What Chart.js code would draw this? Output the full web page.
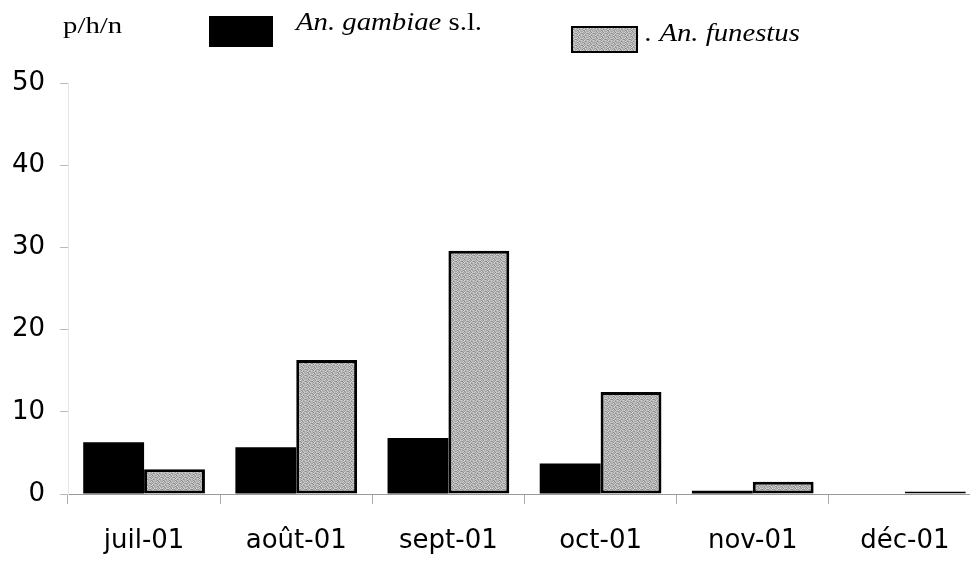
<!DOCTYPE html>
<html>
<head>
<meta charset="utf-8">
<script src="https://cdn.jsdelivr.net/npm/chart.js@4/dist/chart.umd.min.js"></script>
<style>
  html, body { margin: 0; padding: 0; background: #fff; overflow: hidden; }
</style>
</head>
<body>
<canvas id="canvas" width="985" height="562"></canvas>
<script>
var months = ['juil-01', 'août-01', 'sept-01', 'oct-01', 'nov-01', 'déc-01'];
var gambiae = [6.3, 5.7, 6.8, 3.7, 0.4, 0];
var funestus = [3.0, 16.3, 29.6, 12.4, 1.5, 0.3];
var yTicks = [0, 10, 20, 30, 40, 50];

// speckled grey fill, built from a small fixed tile
function speckle() {
    var rows = [
        '201312',
        '130221',
        '312032',
        '021310',
        '203123',
        '132012'
    ];
    var shades = ['#8e8e8e', '#a6a6a6', '#bcbcbc', '#d2d2d2'];
    var t = document.createElement('canvas');
    t.width = 6; t.height = 6;
    var g = t.getContext('2d');
    for (var r = 0; r < 6; r++) {
        for (var k = 0; k < 6; k++) {
            g.fillStyle = shades[+rows[r][k]];
            g.fillRect(k, r, 1, 1);
        }
    }
    return g.createPattern(t, 'repeat');
}

// text slightly stretched sideways, as in the printed legend
function wideText(c, txt, x, y, sx) {
    c.save();
    c.translate(x, y);
    c.scale(sx, 1);
    c.fillText(txt, 0, 0);
    var w = c.measureText(txt).width * sx;
    c.restore();
    return w;
}

// legend drawn by hand: unit label, black swatch, grey swatch
var legendPlugin = {
    id: 'manualLegend',
    afterDraw: function(chart) {
        var c = chart.ctx;
        c.save();
        c.fillStyle = '#000';
        c.textBaseline = 'alphabetic';
        c.font = '24px "Liberation Serif"';
        wideText(c, 'p/h/n', 63, 33, 1.2);

        c.fillStyle = chart.data.datasets[0].backgroundColor;
        c.fillRect(209, 16, 64, 31);

        c.fillStyle = '#000';
        c.font = 'italic 25px "Liberation Serif"';
        var w = wideText(c, 'An. gambiae ', 296, 30, 1.15);
        c.font = '25px "Liberation Serif"';
        wideText(c, 's.l.', 296 + w, 30, 1.15);

        c.fillStyle = chart.data.datasets[1].backgroundColor;
        c.fillRect(571, 26, 67, 27);
        c.lineWidth = 2;
        c.strokeStyle = '#000';
        c.strokeRect(572, 27, 65, 25);

        c.fillStyle = '#000';
        c.font = 'italic 25px "Liberation Serif"';
        wideText(c, '. An. funestus', 645, 41, 1.15);
        c.restore();
    }
};

window.onload = function() {
    var ctx = document.getElementById('canvas').getContext('2d');
    window.chart = new Chart(ctx, {
        type: 'bar',
        data: {
            labels: months,
            datasets: [{
                label: 'An. gambiae s.l.',
                data: gambiae,
                backgroundColor: '#000000',
                borderColor: '#000000',
                borderWidth: 0
            }, {
                label: 'An. funestus',
                data: funestus,
                backgroundColor: speckle(),
                borderColor: '#000000',
                borderWidth: 3,
                borderSkipped: false
            }]
        },
        plugins: [legendPlugin],
        options: {
            responsive: false,
            animation: false,
            layout: { padding: { top: 83, right: 4, left: 12, bottom: 4 } },
            datasets: { bar: { categoryPercentage: 0.8, barPercentage: 1.0 } },
            plugins: {
                legend: { display: false },
                title: { display: false },
                tooltip: { enabled: false }
            },
            scales: {
                x: {
                    afterFit: function(axis) { axis.height = 64; },
                    border: { display: true, color: '#9a9a9a', width: 1 },
                    grid: {
                        offset: true,
                        drawOnChartArea: false,
                        drawTicks: true,
                        tickLength: 10,
                        color: '#aaaaaa'
                    },
                    ticks: {
                        color: '#000',
                        padding: 22,
                        font: { family: '"DejaVu Sans"', size: 26 }
                    }
                },
                y: {
                    min: 0,
                    max: 50,
                    afterBuildTicks: function(axis) {
                        axis.ticks = yTicks.map(function(v) { return { value: v }; });
                    },
                    afterFit: function(axis) { axis.width = 56; },
                    border: { display: true, color: '#e6e6e6', width: 1 },
                    grid: {
                        drawOnChartArea: false,
                        drawTicks: true,
                        tickLength: 8,
                        color: '#bbbbbb'
                    },
                    ticks: {
                        color: '#000',
                        padding: 15,
                        font: { family: '"DejaVu Sans"', size: 26 }
                    }
                }
            }
        }
    });
};
</script>
</body>
</html>
